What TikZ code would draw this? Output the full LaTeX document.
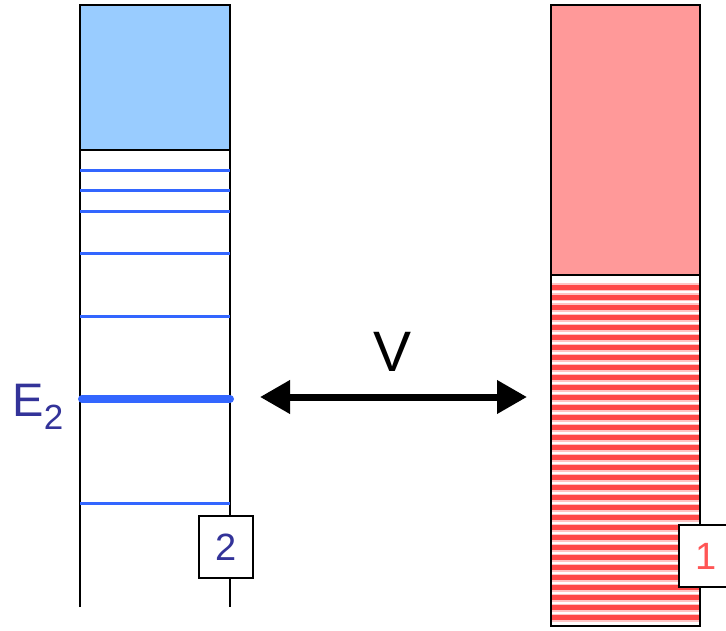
\documentclass[tikz,border=0pt]{standalone}
\usepackage{fontspec}
\setmainfont{Liberation Sans}
\usepackage{xcolor}
\definecolor{wellblue}{HTML}{99CCFF}
\definecolor{levelblue}{HTML}{3366FF}
\definecolor{labelblue}{HTML}{333399}
\definecolor{bandpink}{HTML}{FF9999}
\definecolor{stripered}{HTML}{FF4848}
\definecolor{stripeedge}{HTML}{FFC4C4}
\definecolor{labelred}{HTML}{FF5555}
\usetikzlibrary{arrows.meta, positioning, calc}

\tikzset{
  wall/.style={line width=1.2pt},
  level/.style={levelblue, line width=3pt},
  numbox/.style={draw, fill=white, line width=1.2pt, minimum width=54pt, minimum height=62pt, inner sep=0pt, font=\fontsize{38}{40}\selectfont}
}

\begin{document}
\begin{tikzpicture}[x=1pt, y=-1pt]
  \useasboundingbox (0,0) rectangle (726,631);
  % left well
  \fill[wellblue] (80,5) rectangle (230,150);
  \draw[wall] (80,607) -- (80,5) -- (230,5) -- (230,607);
  \draw[wall] (80,150) -- (230,150);
  \foreach \y in {171,191,212,254,316,503}
    \draw[level] (80,\y) -- (230,\y);
  \draw[level, line width=8pt, line cap=round] (82,399) -- (230,399);
  \node[anchor=base west, labelblue, font=\fontsize{47}{48}\selectfont] (e2) at (9,416)
    {E\raisebox{-13pt}{\fontsize{35}{36}\selectfont 2}};
  \node[numbox, text=labelblue] (box2) at (226,547) {2};

  % right continuum
  \fill[bandpink] (551,5) rectangle (700,275);
  \foreach \i in {0,...,33} {
    \fill[stripeedge] (551,283.5+10*\i) rectangle (700,291.5+10*\i);
    \fill[stripered] (551,285+10*\i) rectangle (700,290+10*\i);
  }
  \draw[wall] (551,5) rectangle (700,626);
  \draw[wall] (551,275) -- (700,275);
  \node[numbox, text=labelred] (box1) at (706,556) {1};

  % coupling
  \coordinate (vleft) at (260,397);
  \coordinate (vright) at (527,397);
  \draw[line width=7pt, {Triangle[length=30pt,width=32pt]}-{Triangle[length=30pt,width=32pt]}] (vleft) -- (vright);
  \node[font=\fontsize{57}{58}\selectfont] (vlabel) at (393,352) {V};
\end{tikzpicture}
\end{document}
